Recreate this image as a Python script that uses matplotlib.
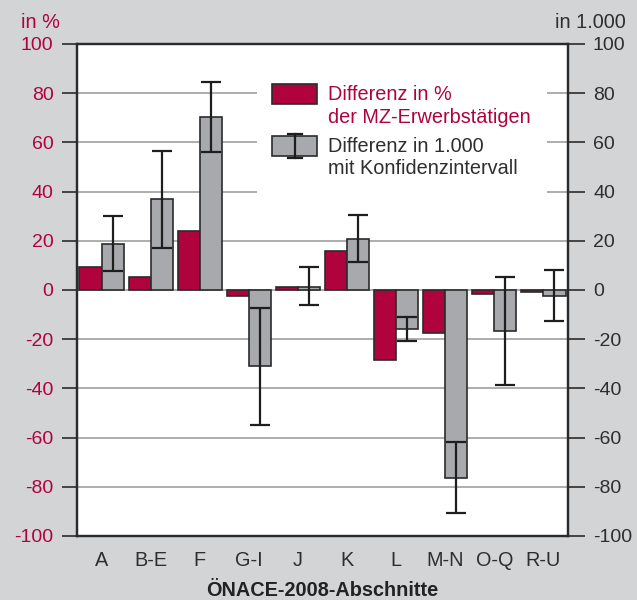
import matplotlib
matplotlib.use("Agg")
import matplotlib.pyplot as plt
from matplotlib.patches import Rectangle
from matplotlib.lines import Line2D
import numpy as np

plt.rcParams['font.family'] = ['Liberation Sans', 'DejaVu Sans']

categories = ["A", "B-E", "F", "G-I", "J", "K", "L", "M-N", "O-Q", "R-U"]
diff_pct = [9.5, 5.4, 24.0, -2.4, 1.4, 16.0, -28.6, -17.3, -1.6, -0.9]
diff_1000 = [18.9, 36.8, 70.2, -30.9, 1.4, 20.8, -16.0, -76.4, -16.6, -2.3]
ci_low = [7.8, 16.9, 56.0, -54.7, -6.1, 11.2, -20.8, -90.8, -38.5, -12.8]
ci_high = [30.0, 56.5, 84.4, -7.3, 9.5, 30.3, -11.0, -61.9, 5.4, 8.1]
yticks = [-100, -80, -60, -40, -20, 0, 20, 40, 60, 80, 100]

RED = "#B0033D"
GREY = "#A8A9AC"
EDGE = "#2B2B2B"
BG = "#D3D4D6"
GRID = "#A0A0A0"
TXT = "#2E2E2E"
FS_TICK = 14
FS = 14.3

W, H = 637, 600
fig = plt.figure(figsize=(W / 100, H / 100), dpi=100, facecolor=BG)

def fx(px):
    return px / W

def fy(py):
    return 1 - py / H

ax = fig.add_axes([fx(77), fy(536), fx(568) - fx(77), fy(44) - fy(536)])
ax.set_facecolor("white")
ax.set_xlim(-0.5, len(categories) - 0.5)
ax.set_ylim(-100, 100)

x = np.arange(len(categories))
bw = 0.45

for t in yticks:
    if -100 < t < 100:
        ax.axhline(t, color=GRID, lw=1.2, zorder=0.5)

# white legend area covering gridlines
ax.add_patch(Rectangle((fx(257), fy(200)), fx(547) - fx(257), fy(62) - fy(200),
                       transform=fig.transFigure, facecolor="white", edgecolor="none", zorder=0.8))

ax.bar(x - bw / 2, diff_pct, width=bw, color=RED, edgecolor=EDGE, linewidth=1.2, zorder=2)
ax.bar(x + bw / 2, diff_1000, width=bw, color=GREY, edgecolor=EDGE, linewidth=1.2, zorder=2)

vals = np.array(diff_1000)
lo = vals - np.array(ci_low)
hi = np.array(ci_high) - vals
ax.errorbar(x + bw / 2, vals, yerr=[lo, hi], fmt="none", ecolor="#1E1E1E",
            elinewidth=1.6, capsize=7.0, capthick=1.6, zorder=3)

ax.set_yticks(yticks)
ax.set_yticklabels([str(t) for t in yticks])
ax.tick_params(axis="y", direction="out", length=11, width=1.2, color=EDGE,
               labelsize=FS_TICK, labelcolor=RED, pad=6)
ax.set_xticks(x)
ax.set_xticklabels(categories)
ax.tick_params(axis="x", length=0, labelsize=FS, labelcolor=TXT, pad=11)
for s in ax.spines.values():
    s.set_color(EDGE)
    s.set_linewidth(1.6)

ax2 = ax.twinx()
ax2.set_ylim(-100, 100)
ax2.set_yticks(yticks)
ax2.set_yticklabels([str(t) for t in yticks])
ax2.tick_params(axis="y", direction="out", length=12, width=1.2, color=EDGE,
                labelsize=FS_TICK, labelcolor=TXT, pad=6)
for s in ax2.spines.values():
    s.set_color(EDGE)
    s.set_linewidth(1.6)

ax.set_xlabel("ÖNACE-2008-Abschnitte", fontsize=FS, fontweight="bold", color="#222222", labelpad=8)

fig.text(fx(21), fy(23), "in %", color=RED, fontsize=FS, va="center", ha="left")
fig.text(fx(626), fy(23), "in 1.000", color=TXT, fontsize=FS, va="center", ha="right")

# legend
fig.patches.append(Rectangle((fx(272), fy(104)), fx(317) - fx(272), fy(84) - fy(104),
                             transform=fig.transFigure, facecolor=RED, edgecolor=EDGE, lw=1.2, zorder=5))
fig.patches.append(Rectangle((fx(272), fy(156)), fx(317) - fx(272), fy(136) - fy(156),
                             transform=fig.transFigure, facecolor=GREY, edgecolor=EDGE, lw=1.2, zorder=5))
cx = fx(295)
fig.lines.append(Line2D([cx, cx], [fy(134), fy(158)], transform=fig.transFigure, color="#1E1E1E", lw=1.6, zorder=6))
for yy in (134, 158):
    fig.lines.append(Line2D([fx(288), fx(302)], [fy(yy), fy(yy)], transform=fig.transFigure,
                            color="#1E1E1E", lw=1.6, zorder=6))
fig.text(fx(328), fy(95), "Differenz in %", color=RED, fontsize=FS, va="center", ha="left")
fig.text(fx(328), fy(117), "der MZ-Erwerbstätigen", color=RED, fontsize=FS, va="center", ha="left")
fig.text(fx(328), fy(146), "Differenz in 1.000", color=TXT, fontsize=FS, va="center", ha="left")
fig.text(fx(328), fy(168), "mit Konfidenzintervall", color=TXT, fontsize=FS, va="center", ha="left")

fig.savefig("out.png", dpi=100, facecolor=BG)
